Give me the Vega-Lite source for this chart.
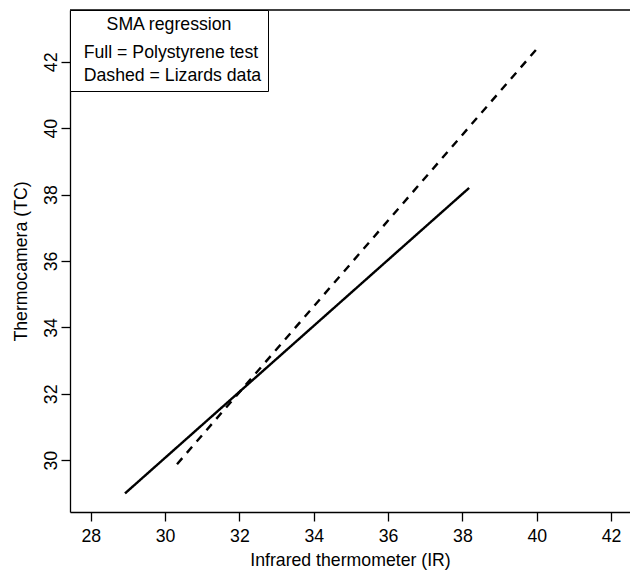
{
  "$schema": "https://vega.github.io/schema/vega-lite/v6.json",
  "width": 560,
  "height": 502,
  "autosize": "none",
  "padding": {"left": 70, "top": 10, "right": 0, "bottom": 59},
  "background": "white",
  "config": {"view": {"stroke": null}, "font": "Liberation Sans"},
  "layer": [
    {
      "data": {"values": [
        {"series": "Full = Polystyrene test", "ir": 28.92, "tc": 29.0},
        {"series": "Full = Polystyrene test", "ir": 38.18, "tc": 38.2},
        {"series": "Dashed = Lizards data", "ir": 30.32, "tc": 29.88},
        {"series": "Dashed = Lizards data", "ir": 39.98, "tc": 42.36}
      ]},
      "mark": {"type": "line", "color": "black", "strokeWidth": 2.4, "strokeCap": "butt"},
      "encoding": {
        "x": {"field": "ir", "type": "quantitative",
          "scale": {"domain": [27.44, 42.51], "nice": false, "zero": false},
          "axis": {"values": [28, 30, 32, 34, 36, 38, 40, 42], "grid": false,
            "domainColor": "black", "domainWidth": 1.3, "tickColor": "black", "tickWidth": 1.3, "tickSize": 9,
            "labelFontSize": 17.7, "labelColor": "black", "labelPadding": 6, "labelFlush": false, "labelOverlap": false,
            "title": "Infrared thermometer (IR)", "titleFontSize": 17.7, "titleFontWeight": "normal", "titleColor": "black", "titlePadding": 7}},
        "y": {"field": "tc", "type": "quantitative",
          "scale": {"domain": [28.44, 43.56], "nice": false, "zero": false},
          "axis": {"values": [30, 32, 34, 36, 38, 40, 42], "grid": false,
            "domainColor": "black", "domainWidth": 1.3, "tickColor": "black", "tickWidth": 1.3, "tickSize": 9,
            "labelFontSize": 17.7, "labelColor": "black", "labelPadding": 5, "labelAngle": 270, "labelAlign": "center", "labelBaseline": "alphabetic", "labelFlush": false, "labelOverlap": false,
            "title": "Thermocamera (TC)", "titleFontSize": 17.7, "titleFontWeight": "normal", "titleColor": "black", "titlePadding": 12}},
        "strokeDash": {"field": "series", "type": "nominal",
          "scale": {"domain": ["Full = Polystyrene test", "Dashed = Lizards data"], "range": [[1, 0], [8, 7]]},
          "legend": {"orient": "top-left", "offset": 0, "title": "SMA regression",
            "titleFontSize": 17.7, "titleFontWeight": "normal", "titleColor": "black", "titleAnchor": "middle", "titlePadding": 10,
            "labelFontSize": 17.7, "labelColor": "black", "labelLimit": 400, "labelOffset": -10,
            "symbolOpacity": 0, "symbolSize": 0, "symbolStrokeWidth": 0,
            "padding": 6, "rowPadding": 4, "strokeColor": "black", "fillColor": "white", "cornerRadius": 0}}
      }
    },
    {
      "data": {"values": [{"edge": "top"}]},
      "mark": {"type": "rule", "color": "black", "strokeWidth": 1.3},
      "encoding": {"y": {"datum": 43.56}}
    }
  ]
}
